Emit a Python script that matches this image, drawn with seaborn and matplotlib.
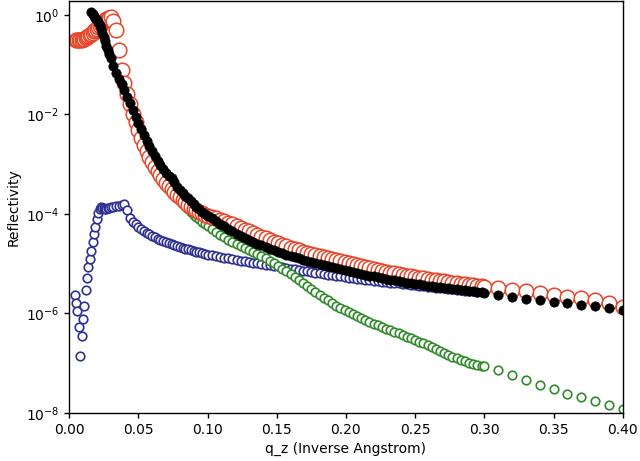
import numpy as np
import matplotlib
matplotlib.use('Agg')
import matplotlib.pyplot as plt
from matplotlib.ticker import NullLocator
import seaborn as sns

nan = float('nan')

# q_z grid shared by all curves (inverse Angstrom)
q = [
    # dense low-q part
    0.004, 0.005, 0.006, 0.007, 0.008, 0.009, 0.010, 0.011, 0.012, 0.013,
    0.014, 0.015, 0.016, 0.017, 0.018, 0.019, 0.020, 0.021, 0.022, 0.023,
    0.024, 0.025, 0.026, 0.027, 0.028, 0.029, 0.030,
    0.032, 0.034, 0.036, 0.038, 0.040, 0.042, 0.044, 0.046, 0.048, 0.050,
    0.052, 0.054, 0.056, 0.058, 0.060, 0.062, 0.064, 0.066, 0.068, 0.070,
    0.072, 0.074, 0.076, 0.078, 0.080, 0.082, 0.084, 0.086, 0.088, 0.090,
    0.092, 0.094, 0.096, 0.098, 0.100,
    0.103, 0.106, 0.109, 0.112, 0.115, 0.118, 0.121, 0.124, 0.127, 0.130,
    0.133, 0.136, 0.139, 0.142, 0.145, 0.148, 0.151, 0.154, 0.157, 0.160,
    0.163, 0.166, 0.169, 0.172, 0.175, 0.178, 0.181, 0.184, 0.187, 0.190,
    0.193, 0.196, 0.199, 0.202, 0.205, 0.208, 0.211, 0.214, 0.217, 0.220,
    0.223, 0.226, 0.229, 0.232, 0.235, 0.238, 0.241, 0.244, 0.247, 0.250,
    0.253, 0.256, 0.259, 0.262, 0.265, 0.268, 0.271, 0.274, 0.277, 0.280,
    0.283, 0.286, 0.289, 0.292, 0.295, 0.298, 0.300,
    # coarse tail
    0.31, 0.32, 0.33, 0.34, 0.35, 0.36, 0.37, 0.38, 0.39, 0.40,
]

# log10 of reflectivity
measured_log = [
    nan, nan, nan, nan, nan, nan, nan, nan, nan, nan,
    nan, nan, 0.05, 0.02, -0.02, -0.06, -0.10, -0.15, -0.21, -0.29,
    -0.37, -0.45, -0.53, -0.62, -0.70, -0.78, -0.86,
    -1.02, -1.16, -1.28, -1.40, -1.52, -1.65, -1.78, -1.92, -2.05, -2.18,
    -2.30, -2.42, -2.53, -2.64, -2.74, -2.84, -2.93, -3.02, -3.10, -3.18,
    -3.24, -3.28, -3.36, -3.45, -3.52, -3.58, -3.64, -3.69, -3.75, -3.80,
    -3.86, -3.91, -3.96, -4.00, -4.04,
    -4.09, -4.15, -4.20, -4.25, -4.30, -4.35, -4.40, -4.44, -4.48, -4.52,
    -4.56, -4.60, -4.63, -4.67, -4.70, -4.73, -4.76, -4.79, -4.82, -4.84,
    -4.87, -4.89, -4.92, -4.94, -4.96, -4.98, -5.01, -5.03, -5.05, -5.07,
    -5.09, -5.11, -5.13, -5.14, -5.16, -5.18, -5.20, -5.22, -5.24, -5.25,
    -5.27, -5.29, -5.30, -5.32, -5.33, -5.35, -5.36, -5.38, -5.39, -5.40,
    -5.41, -5.43, -5.44, -5.45, -5.46, -5.47, -5.48, -5.49, -5.50, -5.51,
    -5.52, -5.53, -5.54, -5.55, -5.56, -5.57, -5.58,
    -5.63, -5.66, -5.70, -5.73, -5.76, -5.78, -5.83, -5.85, -5.88, -5.93,
]

model_log = [
    nan, -0.50, -0.51, -0.51, -0.50, -0.50, -0.49, -0.48, -0.46, -0.44,
    -0.42, -0.40, -0.38, -0.36, -0.33, -0.31, -0.28, -0.25, -0.22, -0.19,
    -0.16, -0.13, -0.11, -0.09, -0.07, -0.06, -0.05,
    -0.12, -0.30, -0.70, -1.10, -1.36, -1.60, -1.80, -1.99, -2.16, -2.32,
    -2.47, -2.61, -2.73, -2.85, -2.95, -3.05, -3.14, -3.22, -3.30, -3.37,
    -3.44, -3.50, -3.56, -3.62, -3.67, -3.72, -3.77, -3.82, -3.86, -3.90,
    -3.93, -3.96, -3.99, -4.02, -4.04,
    -4.06, -4.09, -4.12, -4.15, -4.18, -4.21, -4.25, -4.28, -4.32, -4.35,
    -4.39, -4.42, -4.46, -4.49, -4.53, -4.56, -4.59, -4.62, -4.65, -4.68,
    -4.71, -4.73, -4.76, -4.78, -4.81, -4.83, -4.85, -4.87, -4.89, -4.91,
    -4.93, -4.95, -4.97, -4.99, -5.01, -5.03, -5.05, -5.07, -5.09, -5.11,
    -5.13, -5.14, -5.16, -5.18, -5.19, -5.21, -5.22, -5.24, -5.25, -5.27,
    -5.28, -5.29, -5.31, -5.32, -5.33, -5.34, -5.35, -5.37, -5.38, -5.39,
    -5.40, -5.41, -5.42, -5.43, -5.44, -5.45, -5.46,
    -5.49, -5.52, -5.55, -5.59, -5.63, -5.66, -5.69, -5.73, -5.78, -5.86,
]

film_log = [
    -5.62, -5.78, -5.95, -6.28, -6.85, -6.45, -6.12, -5.85, -5.53, -5.29,
    -5.07, -4.90, -4.74, -4.56, -4.41, -4.26, -4.11, -3.99, -3.91, -3.87,
    -3.88, -3.89, -3.90, -3.90, -3.89, -3.88, -3.87,
    -3.86, -3.85, -3.84, -3.83, -3.81, -3.92, -4.08, -4.16, -4.21, -4.26,
    -4.30, -4.34, -4.38, -4.41, -4.44, -4.47, -4.50, -4.52, -4.54, -4.56,
    -4.58, -4.60, -4.62, -4.64, -4.66, -4.68, -4.70, -4.71, -4.73, -4.74,
    -4.76, -4.77, -4.79, -4.80, -4.82,
    -4.83, -4.85, -4.86, -4.88, -4.89, -4.91, -4.92, -4.94, -4.95, -4.97,
    -4.98, -4.99, -5.00, -5.02, -5.03, -5.04, -5.05, -5.07, -5.08, -5.10,
    -5.11, -5.12, -5.14, -5.15, -5.16, -5.18, -5.19, -5.20, -5.22, -5.23,
    -5.24, -5.25, -5.27, -5.28, -5.29, -5.30, -5.31, -5.32, -5.33, -5.34,
    -5.35, -5.36, -5.37, -5.38, -5.39, -5.39, -5.40, -5.41, -5.42, -5.43,
    -5.44, -5.45, -5.46, -5.47, -5.48, -5.48, -5.49, -5.50, -5.51, -5.52,
    -5.53, -5.54, -5.54, -5.55, -5.56, -5.57, -5.57,
    nan, nan, nan, nan, nan, nan, nan, nan, nan, nan,
]

substrate_log = [
    nan, nan, nan, nan, nan, nan, nan, nan, nan, nan,
    nan, nan, nan, nan, nan, nan, nan, nan, nan, nan,
    nan, nan, nan, nan, nan, nan, nan,
    nan, nan, nan, nan, nan, nan, nan, nan, nan, nan,
    nan, nan, nan, nan, -2.90, -3.00, -3.10, -3.19, -3.28, -3.36,
    -3.44, -3.52, -3.59, -3.66, -3.73, -3.79, -3.85, -3.91, -3.96, -4.02,
    -4.07, -4.11, -4.16, -4.20, -4.25,
    -4.31, -4.37, -4.42, -4.47, -4.52, -4.56, -4.60, -4.64, -4.68, -4.72,
    -4.76, -4.81, -4.85, -4.89, -4.94, -4.99, -5.04, -5.10, -5.15, -5.21,
    -5.27, -5.33, -5.39, -5.45, -5.51, -5.57, -5.62, -5.68, -5.73, -5.79,
    -5.84, -5.89, -5.93, -5.97, -6.01, -6.05, -6.09, -6.13, -6.17, -6.21,
    -6.24, -6.28, -6.31, -6.34, -6.37, -6.40, -6.44, -6.47, -6.50, -6.53,
    -6.57, -6.60, -6.64, -6.68, -6.72, -6.76, -6.80, -6.84, -6.87, -6.90,
    -6.93, -6.96, -6.99, -7.01, -7.03, -7.05, -7.06,
    -7.14, -7.24, -7.34, -7.43, -7.52, -7.61, -7.68, -7.76, -7.84, -7.91,
]

sns.set_style('ticks', {'axes.edgecolor': 'black', 'xtick.color': 'black',
                        'ytick.color': 'black', 'text.color': 'black',
                        'axes.labelcolor': 'black'})
plt.rcParams['font.family'] = ['DejaVu Sans']
plt.rcParams['axes.linewidth'] = 1.0
plt.rcParams['xtick.major.width'] = 1.0
plt.rcParams['ytick.major.width'] = 1.0
plt.rcParams['xtick.major.size'] = 3.5
plt.rcParams['ytick.major.size'] = 3.5

fig, ax = plt.subplots(figsize=(6.4, 4.61), dpi=100)
fig.subplots_adjust(left=0.108, right=0.973, bottom=0.104, top=0.998)

q = np.array(q)
# draw order: blue, green, red, black on top
sns.scatterplot(x=q, y=10 ** np.array(film_log), ax=ax, marker='o', s=38,
                color='white', edgecolor='#2e3192', linewidth=1.2)
sns.scatterplot(x=q, y=10 ** np.array(substrate_log), ax=ax, marker='o', s=38,
                color='white', edgecolor='#2f8a2a', linewidth=1.2)
sns.scatterplot(x=q, y=10 ** np.array(model_log), ax=ax, marker='o', s=110,
                color='white', edgecolor='#e8452a', linewidth=1.1)
sns.scatterplot(x=q, y=10 ** np.array(measured_log), ax=ax, marker='o', s=45,
                color='black', edgecolor='black', linewidth=0.5)

ax.set_yscale('log')
ax.set_xlim(0, 0.4)
ax.set_ylim(1e-8, 1.9)
ax.set_yticks([1e-8, 1e-6, 1e-4, 1e-2, 1])
ax.yaxis.set_minor_locator(NullLocator())
ax.set_xlabel('q_z (Inverse Angstrom)')
ax.set_ylabel('Reflectivity')

fig.savefig('out.png', dpi=100)
